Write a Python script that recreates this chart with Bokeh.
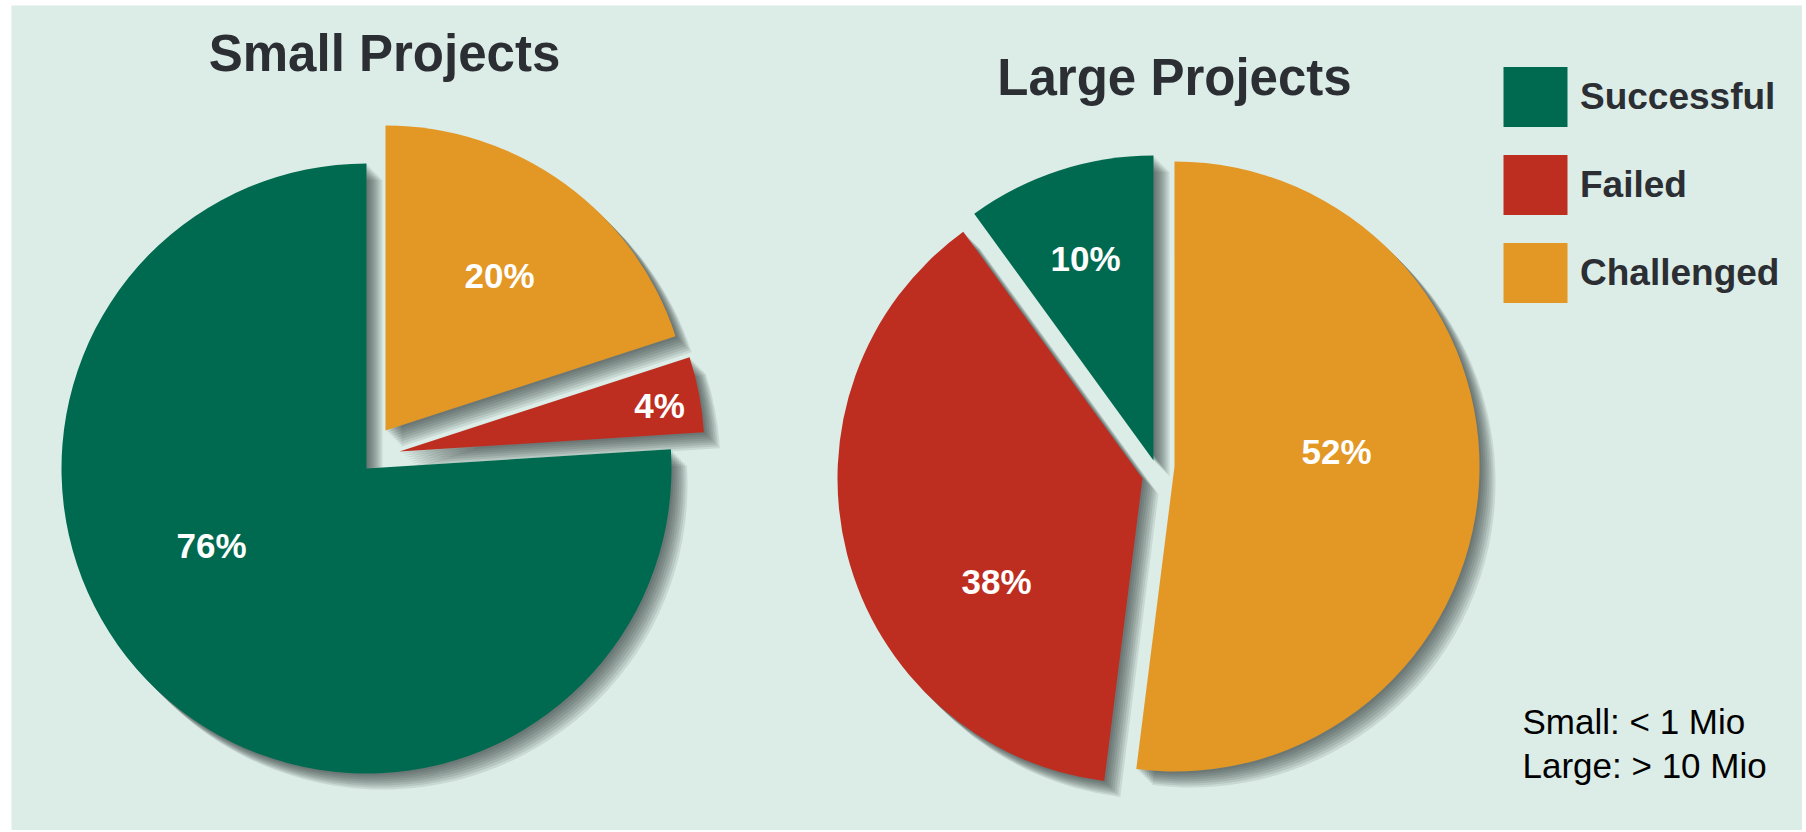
import math
from bokeh.plotting import figure
from bokeh.models import ColumnDataSource, Range1d, Legend, LegendItem, Label
from bokeh.core.properties import value
from bokeh.embed import file_html
from bokeh.resources import INLINE

# ---------------- data ----------------
categories = ["Successful", "Failed", "Challenged"]
small_values = [76, 4, 20]
large_values = [10, 38, 52]
pie_titles = ["Small Projects", "Large Projects"]
note_lines = ["Small: < 1 Mio", "Large: > 10 Mio"]
colors = ["#006A50", "#BD2E21", "#E39725"]

# ---------------- layout / style ----------------
W, H = 1802, 830
PAGE_H = 832
BG = "#DCECE6"
TITLE_COLOR = "#2B2E33"
FONT = "Liberation Sans"
R = 305


def fx(x):
    return x


def fy(y):
    return PAGE_H - y


LAYOUT = [
    {"values": small_values, "center": (366, 468),
     "offsets": [(0, 0), (33, -17), (19, -38)],
     "labels": [(211, 545), (659, 405), (499, 275)],
     "title": (384, 53)},
    {"values": large_values, "center": (1153, 466),
     "offsets": [(0, -6), (-11, 12), (21, 0)],
     "labels": [(1085, 258), (996, 581), (1336, 451)],
     "title": (1174, 77)},
]

p = figure(width=W, height=H, x_range=Range1d(11, W), y_range=Range1d(PAGE_H - H, PAGE_H - 5),
           output_backend="svg", toolbar_location=None,
           x_axis_type=None, y_axis_type=None,
           min_border_left=11, min_border_right=0, min_border_top=5, min_border_bottom=0,
           background_fill_color=BG, border_fill_color="white",
           outline_line_color=None)

pie_sources = []
for pie in LAYOUT:
    vals = pie["values"]
    total = float(sum(vals))
    starts, ends, xs, ys = [], [], [], []
    acc = 0.0
    for v, (dx, dy) in zip(vals, pie["offsets"]):
        a0 = math.pi / 2 + 2 * math.pi * acc / total
        acc += v
        a1 = math.pi / 2 + 2 * math.pi * acc / total
        starts.append(a0)
        ends.append(a1)
        xs.append(fx(pie["center"][0] + dx))
        ys.append(fy(pie["center"][1] + dy))
    src = ColumnDataSource(dict(x=xs, y=ys, start=starts, end=ends,
                                color=colors, cat=categories, val=vals))
    pie_sources.append(src)

# shadows (drawn first, under every slice)
for src in pie_sources:
    d = src.data
    for k in range(8):
        off = 2 + 2 * k
        sh = ColumnDataSource(dict(x=[x + off for x in d["x"]],
                                   y=[y - off for y in d["y"]],
                                   start=d["start"], end=d["end"]))
        p.wedge(x="x", y="y", radius=R, start_angle="start", end_angle="end",
                source=sh, fill_color="#1E2B2B", fill_alpha=0.1,
                line_color=None)

renderers = []
for src in pie_sources:
    r = p.wedge(x="x", y="y", radius=R, start_angle="start", end_angle="end",
                source=src, fill_color="color", line_color=None)
    renderers.append(r)

# percentage labels
for pie, src in zip(LAYOUT, pie_sources):
    lab = ColumnDataSource(dict(
        x=[fx(lx) for lx, ly in pie["labels"]],
        y=[fy(ly) for lx, ly in pie["labels"]],
        t=[f"{v}%" for v in pie["values"]]))
    p.text(x="x", y="y", text="t", source=lab, text_color="white",
           text_font=value(FONT), text_font_style="bold",
           text_font_size="35px", text_align="center",
           text_baseline="alphabetic")

# titles
for pie, t in zip(LAYOUT, pie_titles):
    p.add_layout(Label(x=fx(pie["title"][0]), y=fy(pie["title"][1]), text=t,
                       text_font=FONT, text_font_style="bold",
                       text_font_size="51px", text_color=TITLE_COLOR,
                       text_align="center", text_baseline="alphabetic"))

# note
for line, by in zip(note_lines, [721, 765]):
    p.add_layout(Label(x=fx(1522), y=fy(by), text=line, text_font=FONT,
                       text_font_size="35px", text_color="black",
                       text_align="left", text_baseline="alphabetic"))

legend = Legend(
    items=[LegendItem(label=value(c), renderers=[renderers[0]], index=i)
           for i, c in enumerate(categories)],
    location=(1484, 520), orientation="vertical",
    glyph_width=80, glyph_height=75, spacing=13, padding=0, margin=0,
    label_standoff=5, label_text_font=FONT, label_text_font_size="37px",
    label_text_font_style="bold", label_text_color=TITLE_COLOR,
    background_fill_alpha=0, border_line_color=None)
p.add_layout(legend)

open("out.html", "w").write(file_html(p, INLINE))
